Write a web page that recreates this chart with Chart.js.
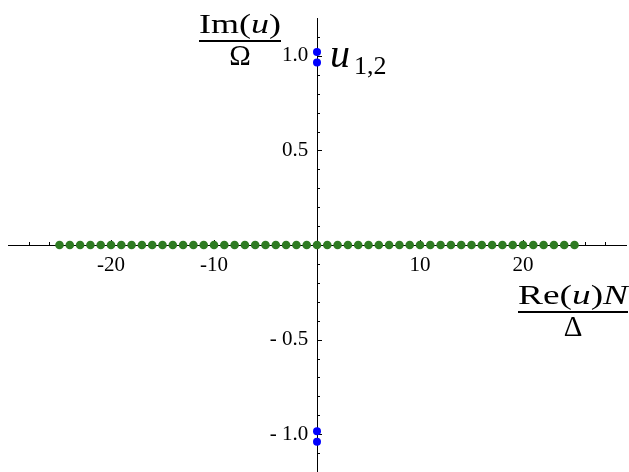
<!DOCTYPE html>
<html>
<head>
<meta charset="utf-8">
<script src="https://cdn.jsdelivr.net/npm/chart.js@4.4.1/dist/chart.umd.min.js"></script>
<style>
  html, body { margin: 0; padding: 0; background: #fff; overflow: hidden; }
</style>
</head>
<body>
<canvas id="chart" width="629" height="472"></canvas>
<script>
// green chain of roots on the real axis (Re(u)N/Δ)
const chainRe = [-25, -24, -23, -22, -21, -20, -19, -18, -17, -16, -15, -14, -13, -12, -11, -10,
  -9, -8, -7, -6, -5, -4, -3, -2, -1, 0, 1, 2, 3, 4, 5, 6, 7, 8, 9, 10,
  11, 12, 13, 14, 15, 16, 17, 18, 19, 20, 21, 22, 23, 24, 25];
const chainIm = 0;

// blue roots u_{1,2} on the imaginary axis (Im(u)/Ω)
const rootsRe = [0, 0, 0, 0];
const rootsIm = [1.02, 0.965, -0.985, -1.04];

// axes
const xRange = [-30, 30];
const yRange = [-1.2, 1.2];
const xTickLabels = [-20, -10, 10, 20];
const yTickLabels = [-1.0, -0.5, 0.5, 1.0];
const xMinorTicks = [-28, -26, -24, -22, -18, -16, -14, -12, -8, -6, -4, -2,
  2, 4, 6, 8, 12, 14, 16, 18, 22, 24, 26, 28];
const yMinorTicks = [-1.1, -0.9, -0.8, -0.7, -0.6, -0.4, -0.3, -0.2, -0.1,
  0.1, 0.2, 0.3, 0.4, 0.6, 0.7, 0.8, 0.9, 1.1];
const yLabelOffset = -0.85; // y tick labels sit a little left of the axis

const serif = "'Liberation Serif', 'Times New Roman', serif";

// draw a stacked fraction, stretched to a given width
function drawFraction(ctx, numParts, den, left, width, barY, size) {
  let w = 0;
  numParts.forEach(p => {
    ctx.font = (p.italic ? 'italic ' : '') + size + 'px ' + serif;
    w += ctx.measureText(p.t).width;
  });
  const sx = width / w;
  ctx.save();
  ctx.translate(left, 0);
  ctx.scale(sx, 1);
  let cx = 0;
  ctx.textBaseline = 'alphabetic';
  ctx.textAlign = 'left';
  numParts.forEach(p => {
    ctx.font = (p.italic ? 'italic ' : '') + size + 'px ' + serif;
    ctx.fillText(p.t, cx, barY - 8);
    cx += ctx.measureText(p.t).width;
  });
  ctx.restore();
  ctx.fillRect(left, barY - 1, width, 2);
  ctx.font = (size + 1) + 'px ' + serif;
  ctx.textAlign = 'center';
  ctx.fillText(den, left + width / 2, barY + 24);
}

const axisDecor = {
  id: 'axisDecor',
  beforeDatasetsDraw(chart) {
    const { ctx, scales: { x, y } } = chart;
    const x0 = x.getPixelForValue(0);
    const y0 = y.getPixelForValue(0);
    ctx.save();
    ctx.strokeStyle = '#000';
    ctx.lineWidth = 1;
    ctx.beginPath();
    xTickLabels.forEach(v => {
      const px = Math.round(x.getPixelForValue(v)) + 0.5;
      ctx.moveTo(px, y0); ctx.lineTo(px, y0 - 5);
    });
    xMinorTicks.forEach(v => {
      const px = Math.round(x.getPixelForValue(v)) + 0.5;
      ctx.moveTo(px, y0); ctx.lineTo(px, y0 - 3);
    });
    yTickLabels.forEach(v => {
      const py = Math.round(y.getPixelForValue(v)) + 0.5;
      ctx.moveTo(x0, py); ctx.lineTo(x0 + 5, py);
    });
    yMinorTicks.forEach(v => {
      const py = Math.round(y.getPixelForValue(v)) + 0.5;
      ctx.moveTo(x0, py); ctx.lineTo(x0 + 3, py);
    });
    ctx.stroke();
    ctx.restore();
  },
  afterDraw(chart) {
    const { ctx } = chart;
    ctx.save();
    ctx.fillStyle = '#000';
    drawFraction(ctx, [{ t: 'Im(' }, { t: 'u', italic: true }, { t: ')' }], 'Ω', 199, 82, 41, 28);
    drawFraction(ctx, [{ t: 'Re(' }, { t: 'u', italic: true }, { t: ')' }, { t: 'N', italic: true }], 'Δ', 518, 110, 312, 28);
    ctx.textAlign = 'left';
    ctx.textBaseline = 'alphabetic';
    ctx.font = 'italic 40px ' + serif;
    ctx.fillText('u', 330, 67);
    ctx.font = '26px ' + serif;
    ctx.fillText('1,2', 354, 74);
    ctx.restore();
  }
};

// centred axes should not take any room from the plot area
const noRoom = s => {
  if (s.isHorizontal()) s.height = 0; else s.width = 0;
  s.paddingTop = s.paddingBottom = s.paddingLeft = s.paddingRight = 0;
};

const tickFont = { family: serif, size: 21 };

new Chart(document.getElementById('chart'), {
  type: 'scatter',
  data: {
    datasets: [
      {
        data: chainRe.map(v => ({ x: v, y: chainIm })),
        backgroundColor: '#2e7b22',
        borderWidth: 0,
        pointRadius: 4.3
      },
      {
        data: rootsRe.map((v, i) => ({ x: v, y: rootsIm[i] })),
        backgroundColor: '#0000ff',
        borderWidth: 0,
        pointRadius: 4
      }
    ]
  },
  options: {
    responsive: false,
    animation: false,
    layout: { autoPadding: false, padding: { left: 8, right: 3, top: 18, bottom: 0 } },
    plugins: { legend: { display: false }, tooltip: { enabled: false } },
    scales: {
      x: {
        type: 'linear',
        min: xRange[0], max: xRange[1],
        position: { y: 0 },
        afterBuildTicks: s => { s.ticks = xTickLabels.map(v => ({ value: v })); },
        afterFit: noRoom,
        grid: { display: false, drawTicks: false },
        border: { display: true, color: '#000', width: 1 },
        ticks: {
          autoSkip: false, maxRotation: 0, padding: 8, color: '#000',
          font: tickFont,
          callback: v => String(v)
        }
      },
      y: {
        type: 'linear',
        min: yRange[0], max: yRange[1],
        position: { x: 0 },
        afterFit: noRoom,
        grid: { display: false, drawTicks: false },
        border: { display: true, color: '#000', width: 1 },
        ticks: { display: false }
      },
      yLabels: {
        type: 'linear',
        axis: 'y',
        min: yRange[0], max: yRange[1],
        position: { x: yLabelOffset },
        afterBuildTicks: s => { s.ticks = yTickLabels.map(v => ({ value: v })); },
        afterFit: noRoom,
        grid: { display: false, drawTicks: false },
        border: { display: false },
        ticks: {
          autoSkip: false, padding: 0, color: '#000',
          font: tickFont,
          callback: v => (v < 0 ? '- ' + Math.abs(v).toFixed(1) : v.toFixed(1))
        }
      }
    }
  },
  plugins: [axisDecor]
});
</script>
</body>
</html>
